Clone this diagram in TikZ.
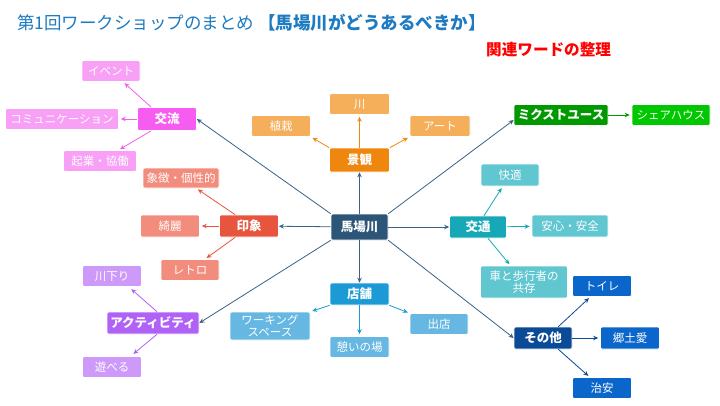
\documentclass[tikz,border=0pt]{standalone}
\usepackage{fontspec}
\setmainfont{Noto Sans CJK JP}
\newfontfamily\jp{Noto Sans CJK JP}
\usetikzlibrary{arrows.meta}
\definecolor{titleblue}{HTML}{1E7BC2}
\definecolor{hubc}{HTML}{2C5578}
\definecolor{hubline}{HTML}{3A6286}
\definecolor{orgA}{HTML}{EF870E}\definecolor{orgB}{HTML}{F5AE5A}
\definecolor{magA}{HTML}{F75CF0}\definecolor{magB}{HTML}{F7A0F5}
\definecolor{redA}{HTML}{E8553E}\definecolor{redB}{HTML}{F28C7C}
\definecolor{purA}{HTML}{B062F7}\definecolor{purB}{HTML}{CE9AFA}
\definecolor{bluA}{HTML}{1B9AD6}\definecolor{bluB}{HTML}{66B8E2}
\definecolor{teaA}{HTML}{17A8B8}\definecolor{teaB}{HTML}{60C6D0}
\definecolor{grnA}{HTML}{009A00}\definecolor{grnB}{HTML}{00C800}
\definecolor{dbA}{HTML}{0A4A96}\definecolor{dbB}{HTML}{0A66CA}
\tikzset{
  box/.style={rounded corners=1.5pt, draw=white, line width=0.6pt, text=white, inner sep=0pt, align=center},
  cat/.style={box, fill=#1, font=\bfseries\fontsize{12.5}{13}\selectfont},
  leaf/.style={box, fill=#1, font=\fontsize{11.5}{13}\selectfont},
  hubarrow/.style={draw=hubline, line width=0.8pt, -{Stealth[length=5pt,width=4.5pt]}},
  subarrow/.style={draw=#1, line width=0.8pt, shorten >=2pt, -{Stealth[length=5pt,width=4.5pt]}}
}
\begin{document}
\begin{tikzpicture}[x=1pt,y=-1pt]
\useasboundingbox (0,0) rectangle (720,405);
\fill[white] (0,0) rectangle (720,405);
% titles
\node[anchor=west, inner sep=0pt, text=titleblue, font=\fontsize{17.5}{19}\selectfont] (title) at (17,23) {第1回ワークショップのまとめ\hspace{4pt}\textbf{【馬場川がどうあるべきか】}};
\node[anchor=west, inner sep=0pt, text=red, font=\bfseries\fontsize{15.6}{17}\selectfont] (sub) at (486,50) {関連ワードの整理};
% hub
\node[cat=hubc, minimum width=57pt, minimum height=26pt] (hub) at (359.5,227) {馬場川};
% categories
\node[cat=orgA, minimum width=60pt, minimum height=24pt] (keikan) at (359.5,160) {景観};
\node[cat=magA, minimum width=59pt, minimum height=23pt] (koryu) at (167,119) {交流};
\node[cat=redA, minimum width=59pt, minimum height=22pt] (insho) at (249,226) {印象};
\node[cat=purA, minimum width=92pt, minimum height=22pt] (act) at (153,323) {アクティビティ};
\node[cat=bluA, minimum width=59pt, minimum height=22pt] (tenpo) at (359.5,294) {店舗};
\node[cat=teaA, minimum width=57pt, minimum height=22pt] (kotsu) at (478,227) {交通};
\node[cat=grnA, minimum width=94pt, minimum height=21pt] (mixed) at (561,115) {ミクストユース};
\node[cat=dbA, minimum width=58pt, minimum height=22pt] (sonota) at (543,338) {その他};
% leaves
\node[leaf=orgB, minimum width=60pt, minimum height=21pt] (kawa) at (359.5,104) {川};
\node[leaf=orgB, minimum width=59pt, minimum height=21pt] (shokusai) at (281,126) {植栽};
\node[leaf=orgB, minimum width=60pt, minimum height=21pt] (art) at (440,126) {アート};
\node[leaf=magB, minimum width=58pt, minimum height=21pt] (event) at (111,71) {イベント};
\node[leaf=magB, minimum width=113pt, minimum height=21pt] (comm) at (62,119) {コミュニケーション};
\node[leaf=magB, minimum width=73pt, minimum height=21pt] (kigyo) at (100,161) {起業・協働};
\node[leaf=redB, minimum width=76pt, minimum height=20pt] (shocho) at (181,178) {象徴・個性的};
\node[leaf=redB, minimum width=59pt, minimum height=22pt] (kirei) at (170,226) {綺麗};
\node[leaf=redB, minimum width=58pt, minimum height=21pt] (retro) at (190,270) {レトロ};
\node[leaf=purB, minimum width=59pt, minimum height=21pt] (kawakudari) at (112,276) {川下り};
\node[leaf=purB, minimum width=59pt, minimum height=21pt] (asoberu) at (112,367) {遊べる};
\node[leaf=bluB, minimum width=80pt, minimum height=28pt, font=\fontsize{11.5}{12}\selectfont] (working) at (270,326) {ワーキング\\スペース};
\node[leaf=bluB, minimum width=59pt, minimum height=21pt] (ikoi) at (359.5,347) {憩いの場};
\node[leaf=bluB, minimum width=58pt, minimum height=21pt] (demise) at (439,324) {出店};
\node[leaf=teaB, minimum width=58pt, minimum height=22pt] (kaiteki) at (510,175) {快適};
\node[leaf=teaB, minimum width=76pt, minimum height=22pt] (anshin) at (570,226) {安心・安全};
\node[leaf=teaB, minimum width=87pt, minimum height=32pt, font=\fontsize{11.5}{12.5}\selectfont] (kuruma) at (524,282) {車と歩行者の\\共存};
\node[leaf=grnB, minimum width=78pt, minimum height=21pt] (share) at (671,115) {シェアハウス};
\node[leaf=dbB, minimum width=59pt, minimum height=21pt] (toilet) at (602,286) {トイレ};
\node[leaf=dbB, minimum width=59pt, minimum height=22pt] (kyodo) at (630,338) {郷土愛};
\node[leaf=dbB, minimum width=59pt, minimum height=21pt] (chian) at (602,388) {治安};
% hub arrows
\draw[hubarrow] (hub) -- (keikan);
\draw[hubarrow] (hub.north west) -- (koryu.east);
\draw[hubarrow] (hub) -- (insho);
\draw[hubarrow] (hub.south west) -- (act.east);
\draw[hubarrow] (hub) -- (tenpo);
\draw[hubarrow] (hub) -- (kotsu);
\draw[hubarrow] (hub.north east) -- ([yshift=-5pt]mixed.west);
\draw[hubarrow] (hub.south east) -- (sonota.west);
% sub arrows
\draw[subarrow=orgA] (keikan) -- (kawa);
\draw[subarrow=orgA] (keikan.north west) -- (shokusai.south east);
\draw[subarrow=orgA] (keikan.north east) -- (art.south west);
\draw[subarrow=magA] (koryu.north west) ++(14,0) coordinate (k1) (k1) -- (event);
\draw[subarrow=magA] (koryu) -- (comm);
\draw[subarrow=magA] (koryu.south west) ++(14,0) coordinate (k2) (k2) -- (kigyo);
\draw[subarrow=redA] (insho.north west) ++(16,0) coordinate (i1) (i1) -- (shocho);
\draw[subarrow=redA] (insho) -- (kirei);
\draw[subarrow=redA] (insho.south west) ++(16,0) coordinate (i2) (i2) -- (retro);
\draw[subarrow=purA] (act.north) ++(4,0) coordinate (a1) (a1) -- ([xshift=-12pt,yshift=-1pt]kawakudari.south east);
\draw[subarrow=purA] (act.south) ++(4,0) coordinate (a2) (a2) -- ([xshift=-10pt,yshift=1pt]asoberu.north east);
\draw[subarrow=bluA] (tenpo.south west) -- (working.north east);
\draw[subarrow=bluA] (tenpo) -- (ikoi);
\draw[subarrow=bluA] (tenpo.south east) -- (demise.north west);
\draw[subarrow=teaA] (kotsu.north) ++(6,0) coordinate (t1) (t1) -- (kaiteki);
\draw[subarrow=teaA] (kotsu) -- (anshin);
\draw[subarrow=teaA] (kotsu.south) ++(10,0) coordinate (t2) (t2) -- (kuruma);
\draw[subarrow=grnA] (mixed) -- (share);
\draw[subarrow=dbA] (sonota.north east) ++(-14,0) coordinate (s1) (s1) -- (toilet);
\draw[subarrow=dbA] (sonota) -- (kyodo);
\draw[subarrow=dbA] (sonota.south east) ++(-14,0) coordinate (s2) (s2) -- (chian);
\end{tikzpicture}
\end{document}
